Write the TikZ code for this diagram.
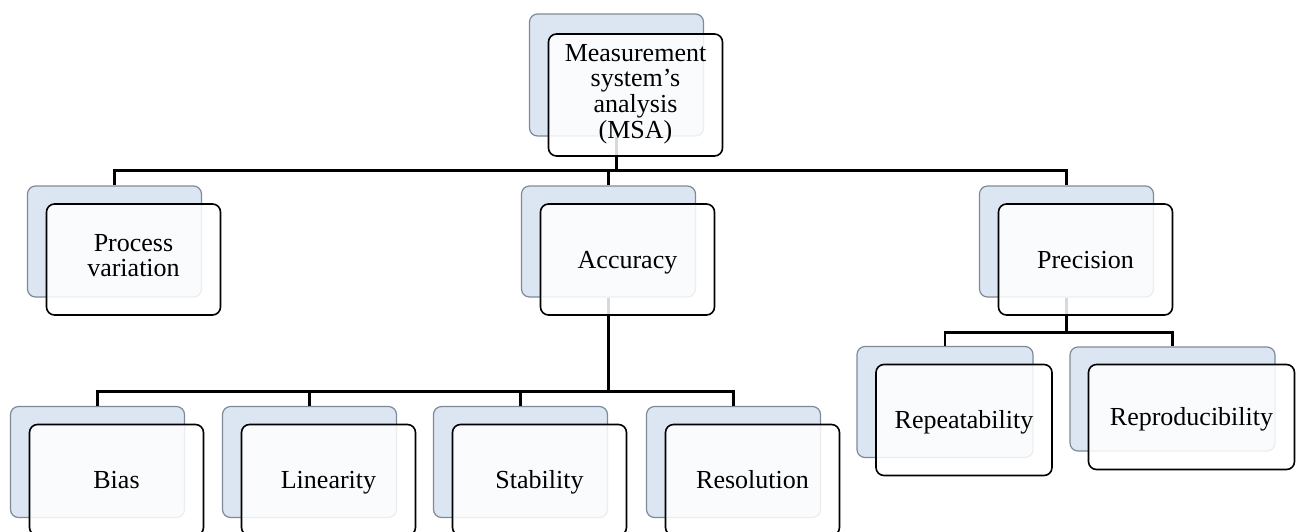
\documentclass[tikz,border=0pt]{standalone}
\usepackage{fontspec}
\setmainfont{Liberation Serif}
\usepackage{tikz}
\usetikzlibrary{positioning,calc}
\definecolor{msablue}{HTML}{DCE6F2}
\definecolor{msaedge}{HTML}{7F8A98}

\begin{document}
\begin{tikzpicture}[x=0.5pt,y=-0.5pt,
  back/.style={draw=msaedge,line width=0.6pt,fill=msablue,rounded corners=4pt,
               minimum width=87pt,minimum height=55.5pt,inner sep=0pt},
  front/.style={draw=black,line width=0.8pt,fill=white,fill opacity=0.85,text opacity=1,
                rounded corners=4pt,minimum width=87pt,minimum height=55.5pt,
                align=center,inner sep=1pt,font=\fontsize{13}{12.8}\selectfont,
                execute at begin node=\rule{0pt}{12.5pt},execute at end node=\strut},
  link/.style={line width=1.4pt}]
  \useasboundingbox (0,0) rectangle (1301,531);
  \clip (0,0) rectangle (1301,531);
  % Back cards
  \node[back,minimum height=61pt] (msab) at (616.5,75) {};
  \node[back] (pvb) at (114.5,241.5) {};
  \node[back] (accb) at (608.5,241.5) {};
  \node[back] (precb) at (1066.5,241.5) {};
  \foreach \n/\x in {bias/97.5,lin/309.5,stab/520.5,res/733.5}
    \node[back] (\n b) at (\x,462) {};
  \node[back,minimum width=88pt] (repb) at (945,402) {};
  \node[back,minimum width=102.5pt,minimum height=52pt] (reprob) at (1172.5,399) {};
  % Connectors
  \draw[link] (msab.south) -- ++(0,34) -| (pvb.north);
  \draw[link] (msab.south) -- ++(0,34) -| (accb.north);
  \draw[link] (msab.south) -- ++(0,34) -| (precb.north);
  \foreach \n in {bias,lin,stab,res}
    \draw[link] (accb.south) -- ++(0,94) -| (\n b.north);
  \draw[link] (precb.south) -- ++(0,35) -| (repb.north);
  \draw[link] (precb.south) -- ++(0,35) -| (reprob.north);
  % Front cards
  \node[front,minimum height=61pt] (msa) at ([xshift=9.5pt,yshift=-10pt]msab.center)
    {Measurement\\system’s\\analysis\\(MSA)};
  \node[front] (pv) at ([xshift=9.5pt,yshift=-9pt]pvb.center) {Process\\variation};
  \node[front] (acc) at ([xshift=9.5pt,yshift=-9pt]accb.center) {Accuracy};
  \node[front] (prec) at ([xshift=9.5pt,yshift=-9pt]precb.center) {Precision};
  \foreach \n/\t in {bias/Bias,lin/Linearity,stab/Stability,res/Resolution}
    \node[front] (\n) at ([xshift=9.5pt,yshift=-9pt]\n b.center) {\t};
  \node[front,minimum width=88pt] (rep) at ([xshift=9.5pt,yshift=-9pt]repb.center)
    {Repeatability};
  \node[front,minimum width=103pt,minimum height=52.5pt] (repro)
    at ([xshift=9.5pt,yshift=-9pt]reprob.center) {Reproducibility};
\end{tikzpicture}
\end{document}
